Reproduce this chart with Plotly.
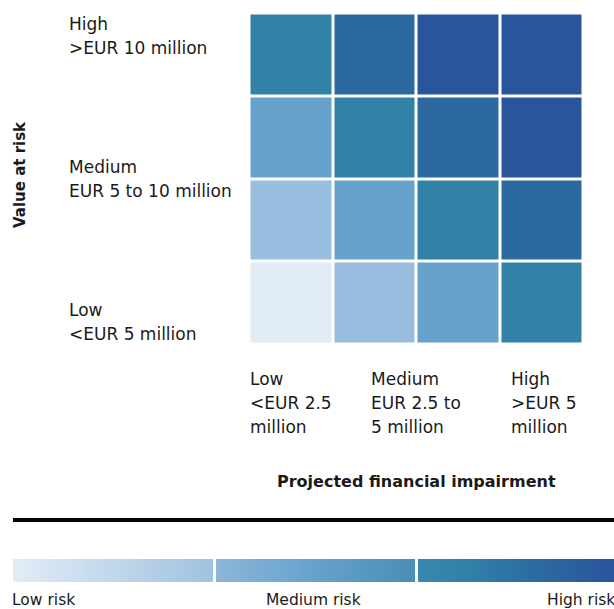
import plotly.graph_objects as go

W, H = 614, 609

# Data
x_levels = ["Low", "Medium-low", "Medium-high", "High"]          # projected financial impairment (cells)
y_levels = ["Low", "Medium-low", "Medium-high", "High"]          # value at risk (cells, bottom to top)
risk_matrix = [                                                  # risk level 0..5, bottom row first
    [0, 1, 2, 3],
    [1, 2, 3, 4],
    [2, 3, 4, 5],
    [3, 4, 5, 5],
]
level_colors = ["#E2ECF6", "#98BDDE", "#66A2CC", "#3281A7", "#2C69A0", "#29559C"]

y_labels = [("High", ">EUR 10 million"), ("Medium", "EUR 5 to 10 million"), ("Low", "<EUR 5 million")]
x_labels = [("Low", "<EUR 2.5", "million"), ("Medium", "EUR 2.5 to", "5 million"), ("High", ">EUR 5", "million")]
legend_labels = ["Low risk", "Medium risk", "High risk"]

FONT = "DejaVu Sans"
TXT = "#1a1a1a"

def px(x):
    return x / W

def py(y):
    return 1 - y / H

# discrete colorscale for the matrix
n = len(level_colors)
cs = []
for i, c in enumerate(level_colors):
    cs.append([i / n, c])
    cs.append([(i + 1) / n, c])

legend_scale = [
    [0.0, "#E2ECF6"], [0.3328, "#A0C2E0"], [0.3328, "#FFFFFF"], [0.3373, "#FFFFFF"],
    [0.3373, "#8CB6DA"], [0.5, "#66A2CC"], [0.6689, "#4A8DB5"], [0.6689, "#FFFFFF"],
    [0.6734, "#FFFFFF"], [0.6734, "#3A87AE"],
    [0.76, "#3080A8"], [0.88, "#2C69A0"], [1.0, "#29559C"],
]

fig = go.Figure()
fig.add_trace(go.Heatmap(
    z=risk_matrix, x=list(range(len(x_levels))), y=list(range(len(y_levels))),
    colorscale=cs, zmin=-0.5, zmax=n - 0.5, showscale=False,
    xgap=3, ygap=3, hoverinfo="skip",
))
fig.add_trace(go.Scatter(
    x=[None], y=[None], mode="markers", showlegend=False, hoverinfo="skip",
    marker=dict(color=[0], cmin=0, cmax=1, colorscale=legend_scale, showscale=True,
                colorbar=dict(orientation="h", thickness=23, thicknessmode="pixels",
                              len=601, lenmode="pixels", x=px(13), xanchor="left",
                              y=py(559), yanchor="top", xpad=0, ypad=0,
                              outlinewidth=0, showticklabels=False, ticks="")),
))

ann = []
def add_text(text, x, y, size=16, xanchor="left", angle=0):
    ann.append(dict(text=text, x=px(x), y=py(y), xref="paper", yref="paper",
                    xanchor=xanchor, yanchor="middle", textangle=angle, showarrow=False,
                    font=dict(family=FONT, size=size, color=TXT)))

# y labels
y_pos = [24, 167, 310]
for (a, b), yy in zip(y_labels, y_pos):
    for k, t in enumerate((a, b)):
        add_text(t, 67, yy + 24 * k, size=17)
# x labels
x_pos = [248, 369, 509]
for lines, xx in zip(x_labels, x_pos):
    for k, t in enumerate(lines):
        add_text(t, xx, 379 + 24 * k, size=17)
# axis titles
add_text("<b>Value at risk</b>", 20, 175, size=15, xanchor="center", angle=-90)
add_text("<b>Projected financial impairment</b>", 416, 481, size=16, xanchor="center")
# legend labels
add_text(legend_labels[0], 10, 600, size=15.5)
add_text(legend_labels[1], 313, 600, size=15.5, xanchor="center")
add_text(legend_labels[2], 617, 600, size=15.5, xanchor="right")

shapes = [
    dict(type="line", xref="paper", yref="paper", x0=px(13), x1=1, y0=py(520), y1=py(520),
         line=dict(color="#000000", width=4)),
]

fig.update_layout(
    width=W, height=H, margin=dict(l=0, r=0, t=0, b=0),
    paper_bgcolor="white", plot_bgcolor="white",
    xaxis=dict(domain=[px(249.5), px(583.5)], range=[-0.5, 3.5], visible=False, fixedrange=True),
    yaxis=dict(domain=[py(344.5), py(13.5)], range=[-0.5, 3.5], visible=False, fixedrange=True),
    annotations=ann, shapes=shapes, showlegend=False,
)
fig.write_html("out.html")
